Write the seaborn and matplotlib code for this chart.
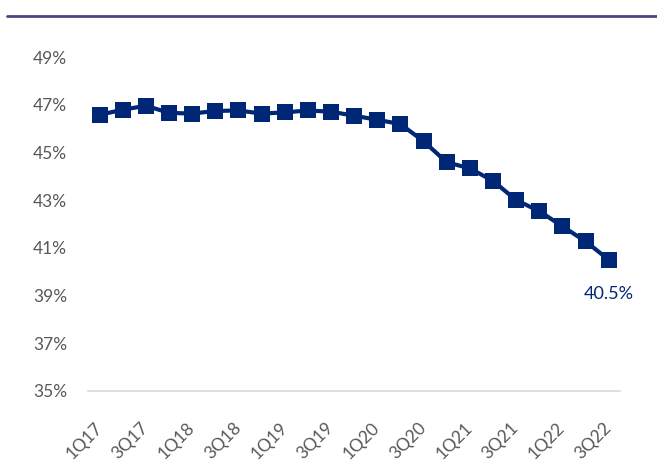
import matplotlib
matplotlib.use("Agg")
import matplotlib.pyplot as plt
import seaborn as sns
import pandas as pd
import numpy as np

# quarterly values (%)
quarters = ["1Q17", "2Q17", "3Q17", "4Q17", "1Q18", "2Q18", "3Q18", "4Q18",
            "1Q19", "2Q19", "3Q19", "4Q19", "1Q20", "2Q20", "3Q20", "4Q20",
            "1Q21", "2Q21", "3Q21", "4Q21", "1Q22", "2Q22", "3Q22"]
values = [46.58, 46.79, 46.96, 46.66, 46.63, 46.74, 46.76, 46.63,
          46.68, 46.76, 46.71, 46.54, 46.37, 46.19, 45.47, 44.59,
          44.33, 43.81, 43.00, 42.54, 41.90, 41.27, 40.50]
y_ticks = [35, 37, 39, 41, 43, 45, 47, 49]

navy = "#002776"
grey = "#595959"

sns.set_style("white")
plt.rcParams["font.family"] = ["Lato", "DejaVu Sans"]

df = pd.DataFrame({"idx": np.arange(len(quarters)), "value": values})

fig = plt.figure(figsize=(6.57, 4.68), dpi=100)
ax = fig.add_axes([0.134, 0.165, 0.81, 0.713])

sns.lineplot(data=df, x="idx", y="value", ax=ax, color=navy, linewidth=3,
             marker="s", markersize=11, markeredgecolor=navy, markeredgewidth=0)

ax.set_xlim(-0.5, len(quarters) - 0.5)
ax.set_ylim(35, 49)
ax.set_yticks(y_ticks)
ax.set_yticklabels([f"{t}%" for t in y_ticks], fontsize=12.5, color=grey)
ax.set_xticks(df["idx"][::2])
ax.set_xticklabels(quarters[::2], fontsize=12.5, color=grey, rotation=45,
                   ha="right", va="center", rotation_mode="anchor")
ax.tick_params(axis="x", length=0, pad=25)
ax.tick_params(axis="y", length=0, pad=15)
ax.set_xlabel("")
ax.set_ylabel("")

for side in ["top", "right", "left"]:
    ax.spines[side].set_visible(False)
ax.spines["bottom"].set_color("#D9D9D9")
ax.spines["bottom"].set_linewidth(1.2)

# last value label
ax.annotate(f"{values[-1]:.1f}%", (df["idx"].iloc[-1], values[-1]),
            xytext=(0, -25), textcoords="offset points", ha="center",
            va="center", fontsize=13, color=navy)

# header rule
fig.add_artist(plt.Line2D([0.01, 1.0], [0.966, 0.966], color="#4B4585",
                          linewidth=2, transform=fig.transFigure))

fig.savefig("out.png", dpi=100)
